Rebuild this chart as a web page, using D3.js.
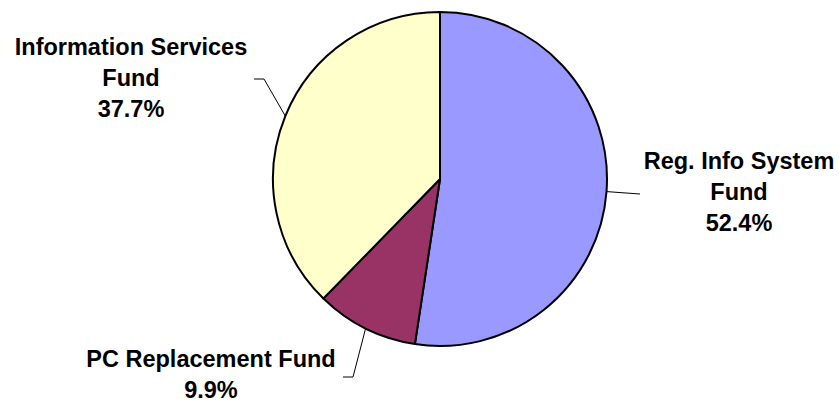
<!DOCTYPE html>
<html>
<head>
<meta charset="utf-8">
<script src="https://cdn.jsdelivr.net/npm/d3@7"></script>
<style>
  body { margin: 0; background: #fff; }
  svg { display: block; }
</style>
</head>
<body>
<div id="chart"></div>
<script>
// slice data, clockwise from 12 o'clock
const funds = ["Reg. Info System Fund", "PC Replacement Fund", "Information Services Fund"];
const shares = [52.4, 9.9, 37.7];
const colors = ["#9999FF", "#993366", "#FFFFCC"];
// how each label is broken into lines
const labelLines = [
    ["Reg. Info System", "Fund"],
    ["PC Replacement Fund"],
    ["Information Services", "Fund"]
];

const width = 839, height = 402;
const cx = 440, cy = 179, radius = 167;

const svg = d3.select("#chart").append("svg")
    .attr("width", width)
    .attr("height", height);

const g = svg.append("g").attr("transform", `translate(${cx},${cy})`);

const pie = d3.pie().sort(null).value(d => d.value);
const arcs = pie(funds.map((name, i) => ({ name, value: shares[i], i })));

const arc = d3.arc().innerRadius(0).outerRadius(radius);

g.selectAll("path.slice")
    .data(arcs)
    .enter()
    .append("path")
    .attr("class", "slice")
    .attr("d", arc)
    .attr("fill", d => colors[d.data.i])
    .attr("stroke", "#000")
    .attr("stroke-width", 2)
    .attr("stroke-linejoin", "round");

// label layout (relative to the page): text centre, first baseline, leader bends
const labelPos = [
    { x: 739, y: 169, bend: [[640, 194]] },
    { x: 211, y: 367, bend: [[353, 377], [343, 377]] },
    { x: 131, y: 55, bend: [[264, 79], [254, 79]] }
];
const lineGap = 31;

const edge = d => {
    const a = (d.startAngle + d.endAngle) / 2;
    return [cx + radius * Math.sin(a), cy - radius * Math.cos(a)];
};

svg.selectAll("path.leader")
    .data(arcs)
    .enter()
    .append("path")
    .attr("class", "leader")
    .attr("d", d => d3.line()([edge(d), ...labelPos[d.index].bend]))
    .attr("fill", "none")
    .attr("stroke", "#000")
    .attr("stroke-width", 1);

const labels = svg.selectAll("text.label")
    .data(arcs)
    .enter()
    .append("text")
    .attr("class", "label")
    .attr("text-anchor", "middle")
    .attr("font-family", "'Liberation Sans', Arial, sans-serif")
    .attr("font-weight", "bold")
    .attr("font-size", "23.5px")
    .attr("fill", "#000");

labels.each(function (d) {
    const pos = labelPos[d.index];
    const lines = labelLines[d.index].concat([d3.format(".1f")(d.data.value) + "%"]);
    d3.select(this).selectAll("tspan")
        .data(lines)
        .enter()
        .append("tspan")
        .attr("x", pos.x)
        .attr("y", (t, j) => pos.y + j * lineGap)
        .text(t => t);
});
</script>
</body>
</html>
